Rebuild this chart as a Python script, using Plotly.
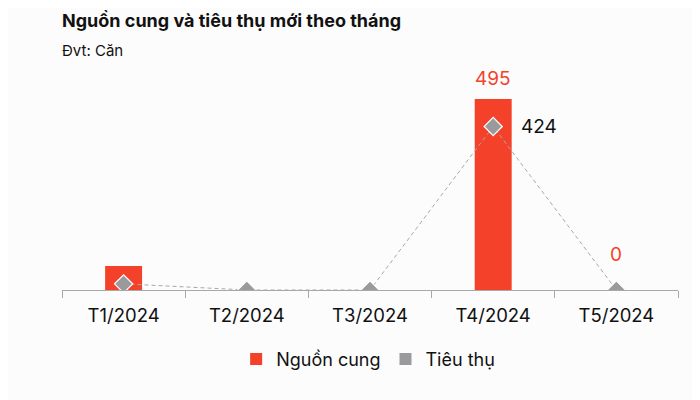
import plotly.graph_objects as go

months = ["T1/2024", "T2/2024", "T3/2024", "T4/2024", "T5/2024"]
nguon_cung = [62, 0, 0, 495, 0]
tieu_thu = [16, 0, 0, 424, 0]

RED = "#f4412a"
GRAY = "#9a9a9c"
FONT = "Inter, Roboto, sans-serif"

fig = go.Figure()
fig.add_trace(go.Bar(
    x=months, y=nguon_cung, name="Nguồn cung", showlegend=False,
    marker=dict(color=RED, line=dict(width=0)), width=0.3,
))
fig.add_trace(go.Scatter(
    x=months, y=tieu_thu, name="Tiêu thụ", mode="lines+markers", showlegend=False,
    line=dict(color="#a8a8aa", width=1, dash="4px,3px"),
    marker=dict(symbol="diamond", size=14, color=GRAY, line=dict(color="white", width=1.2)),
))
# legend entries (square swatches)
fig.add_trace(go.Scatter(x=[None], y=[None], mode="markers", name="Nguồn cung",
                         marker=dict(symbol="square", size=11, color=RED)))
fig.add_trace(go.Scatter(x=[None], y=[None], mode="markers", name="Tiêu thụ",
                         marker=dict(symbol="square", size=11, color=GRAY)))

# value labels
fig.add_annotation(x=months[3], y=nguon_cung[3], text=str(nguon_cung[3]), showarrow=False,
                   yanchor="bottom", yshift=7, font=dict(color=RED, size=19, family=FONT))
fig.add_annotation(x=months[3], y=tieu_thu[3], text=str(tieu_thu[3]), showarrow=False,
                   xanchor="left", xshift=26, font=dict(color="#111", size=19, family=FONT))
fig.add_annotation(x=months[4], y=nguon_cung[4], text=str(nguon_cung[4]), showarrow=False,
                   yanchor="bottom", yshift=22, font=dict(color=RED, size=19, family=FONT))

fig.add_annotation(xref="paper", yref="paper", x=-0.003, y=1.0, yshift=54, xanchor="left", yanchor="middle",
                   text="<b>Nguồn cung và tiêu thụ mới theo tháng</b>", showarrow=False,
                   font=dict(size=18, color="#111", family=FONT))
fig.add_annotation(xref="paper", yref="paper", x=-0.003, y=1.0, yshift=24, xanchor="left", yanchor="middle",
                   text="Đvt: Căn", showarrow=False,
                   font=dict(size=15, color="#111", family=FONT))

fig.update_layout(
    width=692, height=392,
    margin=dict(l=54, r=22, t=66, b=110),
    paper_bgcolor="#fdfcfd", plot_bgcolor="#fdfcfd",
    font=dict(family=FONT, color="#111"),
    showlegend=True,
    legend=dict(orientation="h", x=0.497, xanchor="center", y=-0.235, yanchor="top",
                font=dict(size=18, color="#111"), itemsizing="constant", itemwidth=30,
                bgcolor="rgba(0,0,0,0)"),
    xaxis=dict(showline=True, linecolor="#a8a8aa", linewidth=1, ticks="outside",
               tickson="boundaries", ticklen=7, tickcolor="#a8a8aa", ticklabelstandoff=9,
               tickfont=dict(size=18.5, color="#111"), range=[-0.5, 4.5], showgrid=False),
    yaxis=dict(visible=False, range=[0, 560], showgrid=False, zeroline=False),
)

fig.write_html("out.html")
